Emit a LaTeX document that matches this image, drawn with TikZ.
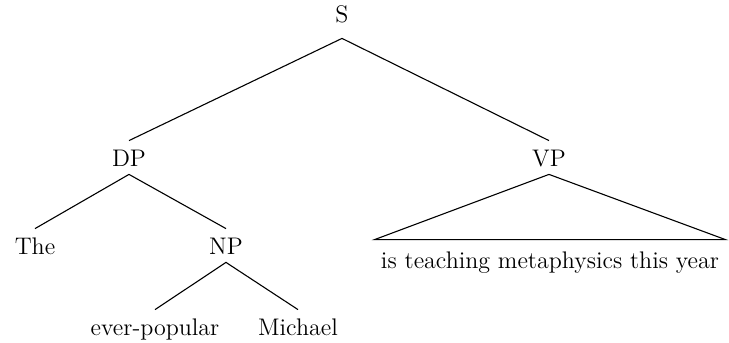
\documentclass[tikz,border=0pt]{standalone}
\usepackage{tikz}
\usetikzlibrary{positioning}
\tikzset{
  treelabel/.style={font=\fontsize{12}{14}\selectfont, anchor=base, inner xsep=0pt, inner ysep=4pt, text height=8.5pt, text depth=0pt},
  rootlabel/.style={treelabel, text depth=4pt},
  spanlabel/.style={treelabel, inner xsep=3pt, text height=10pt},
  treeedge/.style={line width=0.55pt, draw=black, line join=miter}
}
\begin{document}
\begin{tikzpicture}[x=0.5pt, y=-0.5pt]
\useasboundingbox (0,0) rectangle (729,343);
\node[rootlabel] (S) at (342,22) {S};
\node[treelabel] (DP) at (129,166) {DP};
\node[treelabel] (VP) at (549,166) {VP};
\node[treelabel] (The) at (35,254) {The};
\node[treelabel] (NP) at (226,254) {NP};
\node[treelabel] (ever) at (155,335) {ever-popular};
\node[treelabel] (Michael) at (298,335) {Michael};
\node[spanlabel] (vpspan) at (550,268) {is teaching metaphysics this year};
\draw[treeedge] (DP.north) -- (S.south) -- (VP.north);
\draw[treeedge] (The.north) -- (DP.south) -- (NP.north);
\draw[treeedge] (ever.north) -- (NP.south) -- (Michael.north);
\draw[treeedge] (VP.south) -- (vpspan.north east) -- (vpspan.north west) -- cycle;
\end{tikzpicture}
\end{document}
